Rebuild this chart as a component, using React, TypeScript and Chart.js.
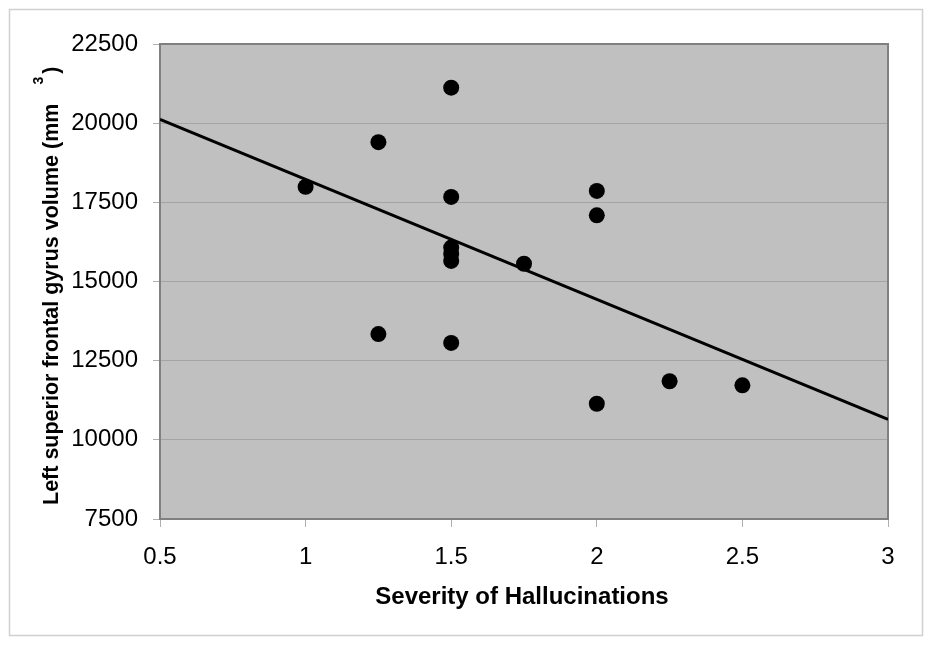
import React, { useEffect, useRef } from 'react';
import { Chart, registerables } from 'chart.js';

Chart.register(...registerables);

// Data
const severity = [1, 1.25, 1.25, 1.5, 1.5, 1.5, 1.5, 1.5, 1.5, 1.75, 2, 2, 2, 2.25, 2.5];
const volume = [17990, 19400, 13340, 21120, 17670, 16070, 15870, 15650, 13060, 15560, 17860, 17090, 11140, 11850, 11720];
const trendX = [0.5, 3];
const trendY = [20120, 10650];
const xTickValues = [0.5, 1, 1.5, 2, 2.5, 3];
const yTickValues = [7500, 10000, 12500, 15000, 17500, 20000, 22500];
const xTitle = 'Severity of Hallucinations';
const yTitleMain = 'Left superior frontal gyrus volume (mm';
const yTitleSup = '3';
const yTitleEnd = ')';

const FONT = "'Liberation Sans', Arial, sans-serif";

const decorPlugin = {
  id: 'decor',
  beforeDraw(chart: any) {
    const { ctx, chartArea: a } = chart;
    ctx.save();
    ctx.fillStyle = '#ffffff';
    ctx.fillRect(0, 0, chart.width, chart.height);
    ctx.strokeStyle = '#d0d0d0';
    ctx.lineWidth = 1.5;
    ctx.strokeRect(9.5, 9.5, 913, 626);
    ctx.fillStyle = '#c0c0c0';
    ctx.fillRect(a.left, a.top, a.right - a.left, a.bottom - a.top);
    ctx.restore();
  },
  beforeDatasetsDraw(chart: any) {
    const { ctx, chartArea: a } = chart;
    ctx.save();
    ctx.strokeStyle = '#808080';
    ctx.lineWidth = 2;
    ctx.strokeRect(a.left, a.top, a.right - a.left, a.bottom - a.top);
    ctx.restore();
  },
  afterDraw(chart: any) {
    const { ctx, chartArea: a } = chart;
    ctx.save();
    ctx.fillStyle = '#000000';
    // x title
    ctx.font = `bold 24px ${FONT}`;
    ctx.textAlign = 'center';
    ctx.textBaseline = 'middle';
    ctx.fillText(xTitle, (a.left + a.right) / 2 - 2, 597);
    // y title (rotated)
    ctx.translate(58, 505);
    ctx.rotate(-Math.PI / 2);
    ctx.textAlign = 'left';
    ctx.textBaseline = 'alphabetic';
    ctx.font = `bold 21.5px ${FONT}`;
    ctx.fillText(yTitleMain, 0, 0);
    const w = ctx.measureText(yTitleMain).width;
    ctx.font = `bold 14px ${FONT}`;
    ctx.fillText(yTitleSup, w + 19, -15);
    const w3 = ctx.measureText(yTitleSup).width;
    ctx.font = `bold 21.5px ${FONT}`;
    ctx.fillText(yTitleEnd, w + 19 + w3 + 3, 0);
    ctx.restore();
  },
};

export default function App() {
  const ref = useRef<HTMLCanvasElement | null>(null);

  useEffect(() => {
    if (!ref.current) return;
    const points = severity.map((s, i) => ({ x: s, y: volume[i] }));
    const trend = trendX.map((x, i) => ({ x, y: trendY[i] }));
    const chart = new Chart(ref.current, {
      type: 'scatter',
      data: {
        datasets: [
          {
            type: 'line',
            label: 'Trend',
            data: trend,
            borderColor: '#000000',
            borderWidth: 3,
            pointRadius: 0,
            showLine: true,
            fill: false,
          } as any,
          {
            label: 'Subjects',
            data: points,
            backgroundColor: '#000000',
            borderWidth: 0,
            pointRadius: 8,
            pointHoverRadius: 8,
          },
        ],
      },
      options: {
        responsive: false,
        animation: false,
        layout: { padding: { left: 0, top: 44, right: 42, bottom: 0 } },
        plugins: {
          legend: { display: false },
          tooltip: { enabled: false },
        },
        scales: {
          x: {
            type: 'linear',
            min: 0.5,
            max: 3,
            afterBuildTicks: (scale: any) => {
              scale.ticks = xTickValues.map((v) => ({ value: v }));
            },
            afterFit: (scale: any) => {
              scale.height = 127;
            },
            ticks: {
              callback: (v: any) => String(v),
              color: '#000000',
              font: { family: FONT, size: 24 },
              padding: 16,
              maxRotation: 0,
            },
            grid: {
              drawOnChartArea: false,
              tickLength: 8,
              tickColor: '#b0b0b0',
            },
            border: { display: false },
          },
          y: {
            type: 'linear',
            min: 7500,
            max: 22500,
            afterBuildTicks: (scale: any) => {
              scale.ticks = yTickValues.map((v) => ({ value: v }));
            },
            afterFit: (scale: any) => {
              scale.width = 160;
            },
            ticks: {
              callback: (v: any) => String(v),
              color: '#000000',
              font: { family: FONT, size: 24 },
              padding: 15,
            },
            grid: {
              color: '#a4a4a4',
              lineWidth: 1,
              tickLength: 7,
              tickColor: '#b0b0b0',
            },
            border: { display: false },
          },
        },
      },
      plugins: [decorPlugin],
    });
    return () => chart.destroy();
  }, []);

  return (
    <div style={{ position: 'fixed', left: 0, top: 0, width: 930, height: 646, background: '#fff' }}>
      <canvas ref={ref} width={930} height={646} style={{ width: 930, height: 646, display: 'block' }} />
    </div>
  );
}
